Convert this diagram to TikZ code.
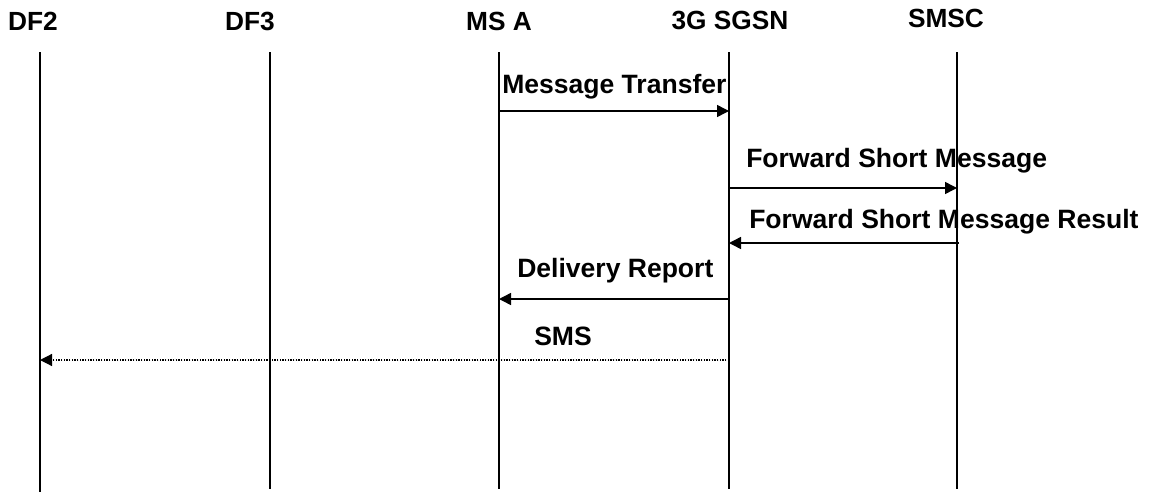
\documentclass[tikz,border=0pt]{standalone}
\usepackage{fontspec}
\setmainfont{Liberation Sans}
\usetikzlibrary{arrows.meta}

\begin{document}
\begin{tikzpicture}[x=0.75pt,y=-0.75pt,
	lbl/.style={font=\bfseries\fontsize{19.9}{23}\selectfont, inner sep=0pt, anchor=base west},
	head/.style={font=\bfseries\fontsize{19.7}{23}\selectfont, inner sep=0pt, anchor=base},
	life/.style={line width=1.1pt},
	msg/.style={line width=1.1pt, -{Triangle[length=9pt,width=9pt]}},
	sms/.style={line width=0.9pt, dash pattern=on 0.9pt off 1.1pt, -{Triangle[length=9pt,width=9pt]}}]
	\useasboundingbox (0,0) rectangle (1149,493);
		\node[head] at (33,30) (df2) {DF2};
		\node[head] at (250,30) (df3) {DF3};
		\node[head] at (499,30) (msa) {MS A};
		\node[head] at (730,29) (sgsn) {3G SGSN};
		\node[head] at (946,27) (smsc) {SMSC};
		\coordinate (df2t) at (40,52); \coordinate (df2b) at (40,492);
		\coordinate (df3t) at (270,52); \coordinate (df3b) at (270,489);
		\coordinate (msat) at (499,52); \coordinate (msab) at (499,489);
		\coordinate (sgsnt) at (729,52); \coordinate (sgsnb) at (729,489);
		\coordinate (smsct) at (957,52); \coordinate (smscb) at (957,489);
		\draw[life] (df2t)--(df2b) (df3t)--(df3b) (msat)--(msab) (sgsnt)--(sgsnb) (smsct)--(smscb);
		\coordinate (msa1) at (499,111); \coordinate (sgsn1) at (729,111);
		\coordinate (sgsn2) at (729,188); \coordinate (smsc2) at (957,188);
		\coordinate (smsc3) at (959,243); \coordinate (sgsn3) at (729,243);
		\coordinate (sgsn4) at (729,299); \coordinate (msa4) at (499,299);
		\coordinate (sgsn5) at (729,360); \coordinate (df25) at (40,360);
		\node[lbl] at (502,93) (mt) {Message Transfer};
		\node[lbl] at (746,167) (fsm) {Forward Short Message};
		\node[lbl] at (749,228) (fsmr) {Forward Short Message Result};
		\node[lbl] at (517,277) (dr) {Delivery Report};
		\node[lbl] at (534,345) (smslbl) {SMS};
		\draw[msg] (msa1)--(sgsn1);
		\draw[msg] (sgsn2)--(smsc2);
		\draw[msg] (smsc3)--(sgsn3);
		\draw[msg] (sgsn4)--(msa4);
		\draw[sms] (sgsn5)--(df25);
	\end{tikzpicture}
\end{document}
